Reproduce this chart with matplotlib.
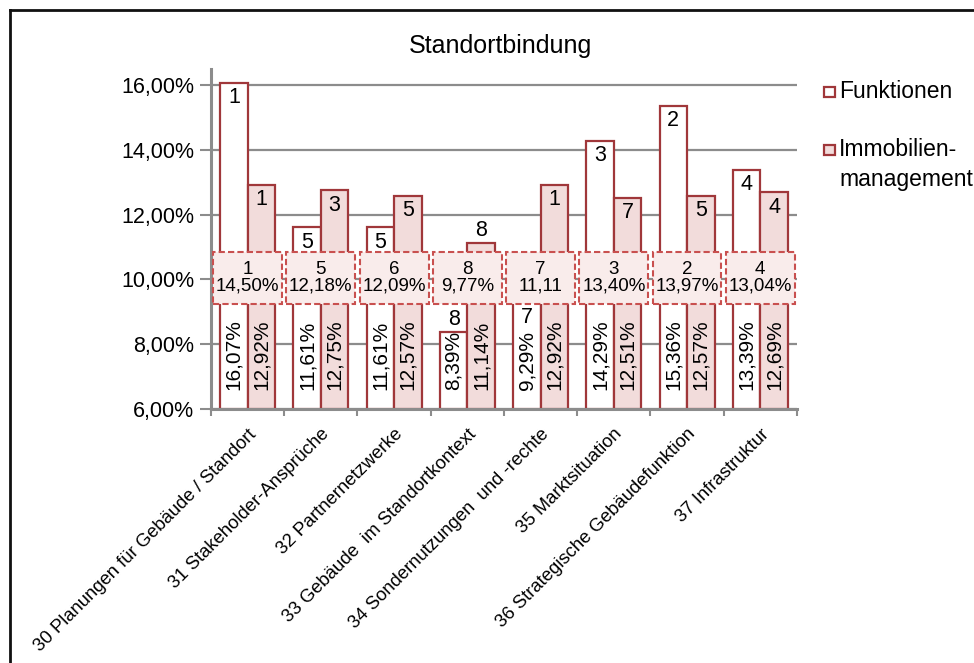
import matplotlib.pyplot as plt
import numpy as np
from matplotlib.patches import Rectangle
from matplotlib.lines import Line2D

plt.rcParams["font.family"] = ["Liberation Sans", "DejaVu Sans"]

categories = [
    "30 Planungen für Gebäude / Standort",
    "31 Stakeholder-Ansprüche",
    "32 Partnernetzwerke",
    "33 Gebäude  im Standortkontext",
    "34 Sondernutzungen  und -rechte",
    "35 Marktsituation",
    "36 Strategische Gebäudefunktion",
    "37 Infrastruktur",
]
funktionen = [16.07, 11.61, 11.61, 8.39, 9.29, 14.29, 15.36, 13.39]
immobilien = [12.92, 12.75, 12.57, 11.14, 12.92, 12.51, 12.57, 12.69]
rank_funktionen = [1, 5, 5, 8, 7, 3, 2, 4]
rank_immobilien = [1, 3, 5, 8, 1, 7, 5, 4]
rank_mittel = [1, 5, 6, 8, 7, 3, 2, 4]
mittel_labels = ["14,50%", "12,18%", "12,09%", "9,77%", "11,11", "13,40%", "13,97%", "13,04%"]

edge = "#a0373a"
fill_immo = "#f2dcdb"
grid_c = "#8c8c8c"

# band in which the average boxes sit (data units)
box_lo, box_hi = 9.24, 10.85

fig = plt.figure(figsize=(9.74, 6.63), dpi=100)
ax = fig.add_axes([0.2166, 0.3831, 0.6016, 0.5128])

x = np.arange(len(categories))
w = 0.375
ax.bar(x - w / 2, np.array(funktionen) - 6, w, bottom=6, color="white",
       edgecolor=edge, linewidth=1.6, zorder=2)
ax.bar(x + w / 2, np.array(immobilien) - 6, w, bottom=6, color=fill_immo,
       edgecolor=edge, linewidth=1.6, zorder=2)


def pct(v):
    return f"{v:.2f}".replace(".", ",") + "%"


for xs, vals, ranks in [(x - w / 2, funktionen, rank_funktionen),
                        (x + w / 2, immobilien, rank_immobilien)]:
    for xi, v, r in zip(xs, vals, ranks):
        # rotated value at the bar base
        ax.text(xi, 6.6, pct(v), rotation=90, ha="center", va="bottom",
                fontsize=15, zorder=4)
        # rank inside the bar top, above the bar when it would hit the box
        outside = v < 8.8 or (box_hi < v < box_hi + 0.65)
        if outside:
            ax.annotate(str(r), (xi, v), xytext=(0, 1), textcoords="offset points",
                        ha="center", va="bottom", fontsize=15.5, zorder=4)
        else:
            ax.annotate(str(r), (xi, v), xytext=(0, -3), textcoords="offset points",
                        ha="center", va="top", fontsize=15.5, zorder=4)

# average boxes across each group
for xi, r, lab in zip(x, rank_mittel, mittel_labels):
    ax.add_patch(Rectangle((xi - 0.47, box_lo), 0.94, box_hi - box_lo,
                           facecolor="#f9eceb", edgecolor="#c9504f",
                           linestyle=(0, (3, 1.5)), linewidth=1.5, zorder=3))
    ax.text(xi, 10.05, f"{r}\n{lab}", ha="center", va="center", fontsize=13.5,
            linespacing=0.95, zorder=4)

ax.set_xlim(-0.5, 7.5)
ax.set_ylim(6, 16.5)
ax.set_yticks([6, 8, 10, 12, 14, 16])
ax.set_yticklabels([pct(v) for v in [6, 8, 10, 12, 14, 16]], fontsize=15.5)
ax.yaxis.grid(True, color=grid_c, linewidth=1.6, zorder=0)
ax.set_axisbelow(True)
ax.tick_params(axis="y", length=8, width=1.5, color=grid_c, pad=4)

ax.set_xticks(x)
ax.set_xticklabels(categories, rotation=45, ha="right", rotation_mode="anchor",
                   fontsize=13.3)
ax.tick_params(axis="x", length=0, pad=12)
ax.set_xticks(np.arange(-0.5, 8, 1), minor=True)
ax.tick_params(axis="x", which="minor", length=5, width=1.5, color=grid_c)

for s in ["top", "right"]:
    ax.spines[s].set_visible(False)
for s in ["left", "bottom"]:
    ax.spines[s].set_color(grid_c)
    ax.spines[s].set_linewidth(2.2)

fig.text(500 / 974, 1 - 46 / 663, "Standortbindung", ha="center", va="center",
         fontsize=18)

# legend on the right
for yy, fc in [(92, "white"), (150, fill_immo)]:
    fig.patches.append(Rectangle((824 / 974, 1 - (yy + 5) / 663), 11 / 974, 10 / 663,
                                 facecolor=fc, edgecolor=edge, linewidth=1.6,
                                 transform=fig.transFigure, figure=fig))
fig.text(839 / 974, 1 - 92 / 663, "Funktionen", ha="left", va="center", fontsize=16.5)
fig.text(839 / 974, 1 - 150 / 663, "Immobilien-", ha="left", va="center", fontsize=16.5)
fig.text(839 / 974, 1 - 180 / 663, "management", ha="left", va="center", fontsize=16.5)

# outer frame (top and left edge)
fig.add_artist(Line2D([9.5 / 974, 1], [1 - 10 / 663, 1 - 10 / 663], color="#111111",
                      linewidth=2, transform=fig.transFigure))
fig.add_artist(Line2D([9.5 / 974, 9.5 / 974], [1 - 10 / 663, 0], color="#111111",
                      linewidth=2, transform=fig.transFigure))

fig.savefig("out.png", dpi=100)
